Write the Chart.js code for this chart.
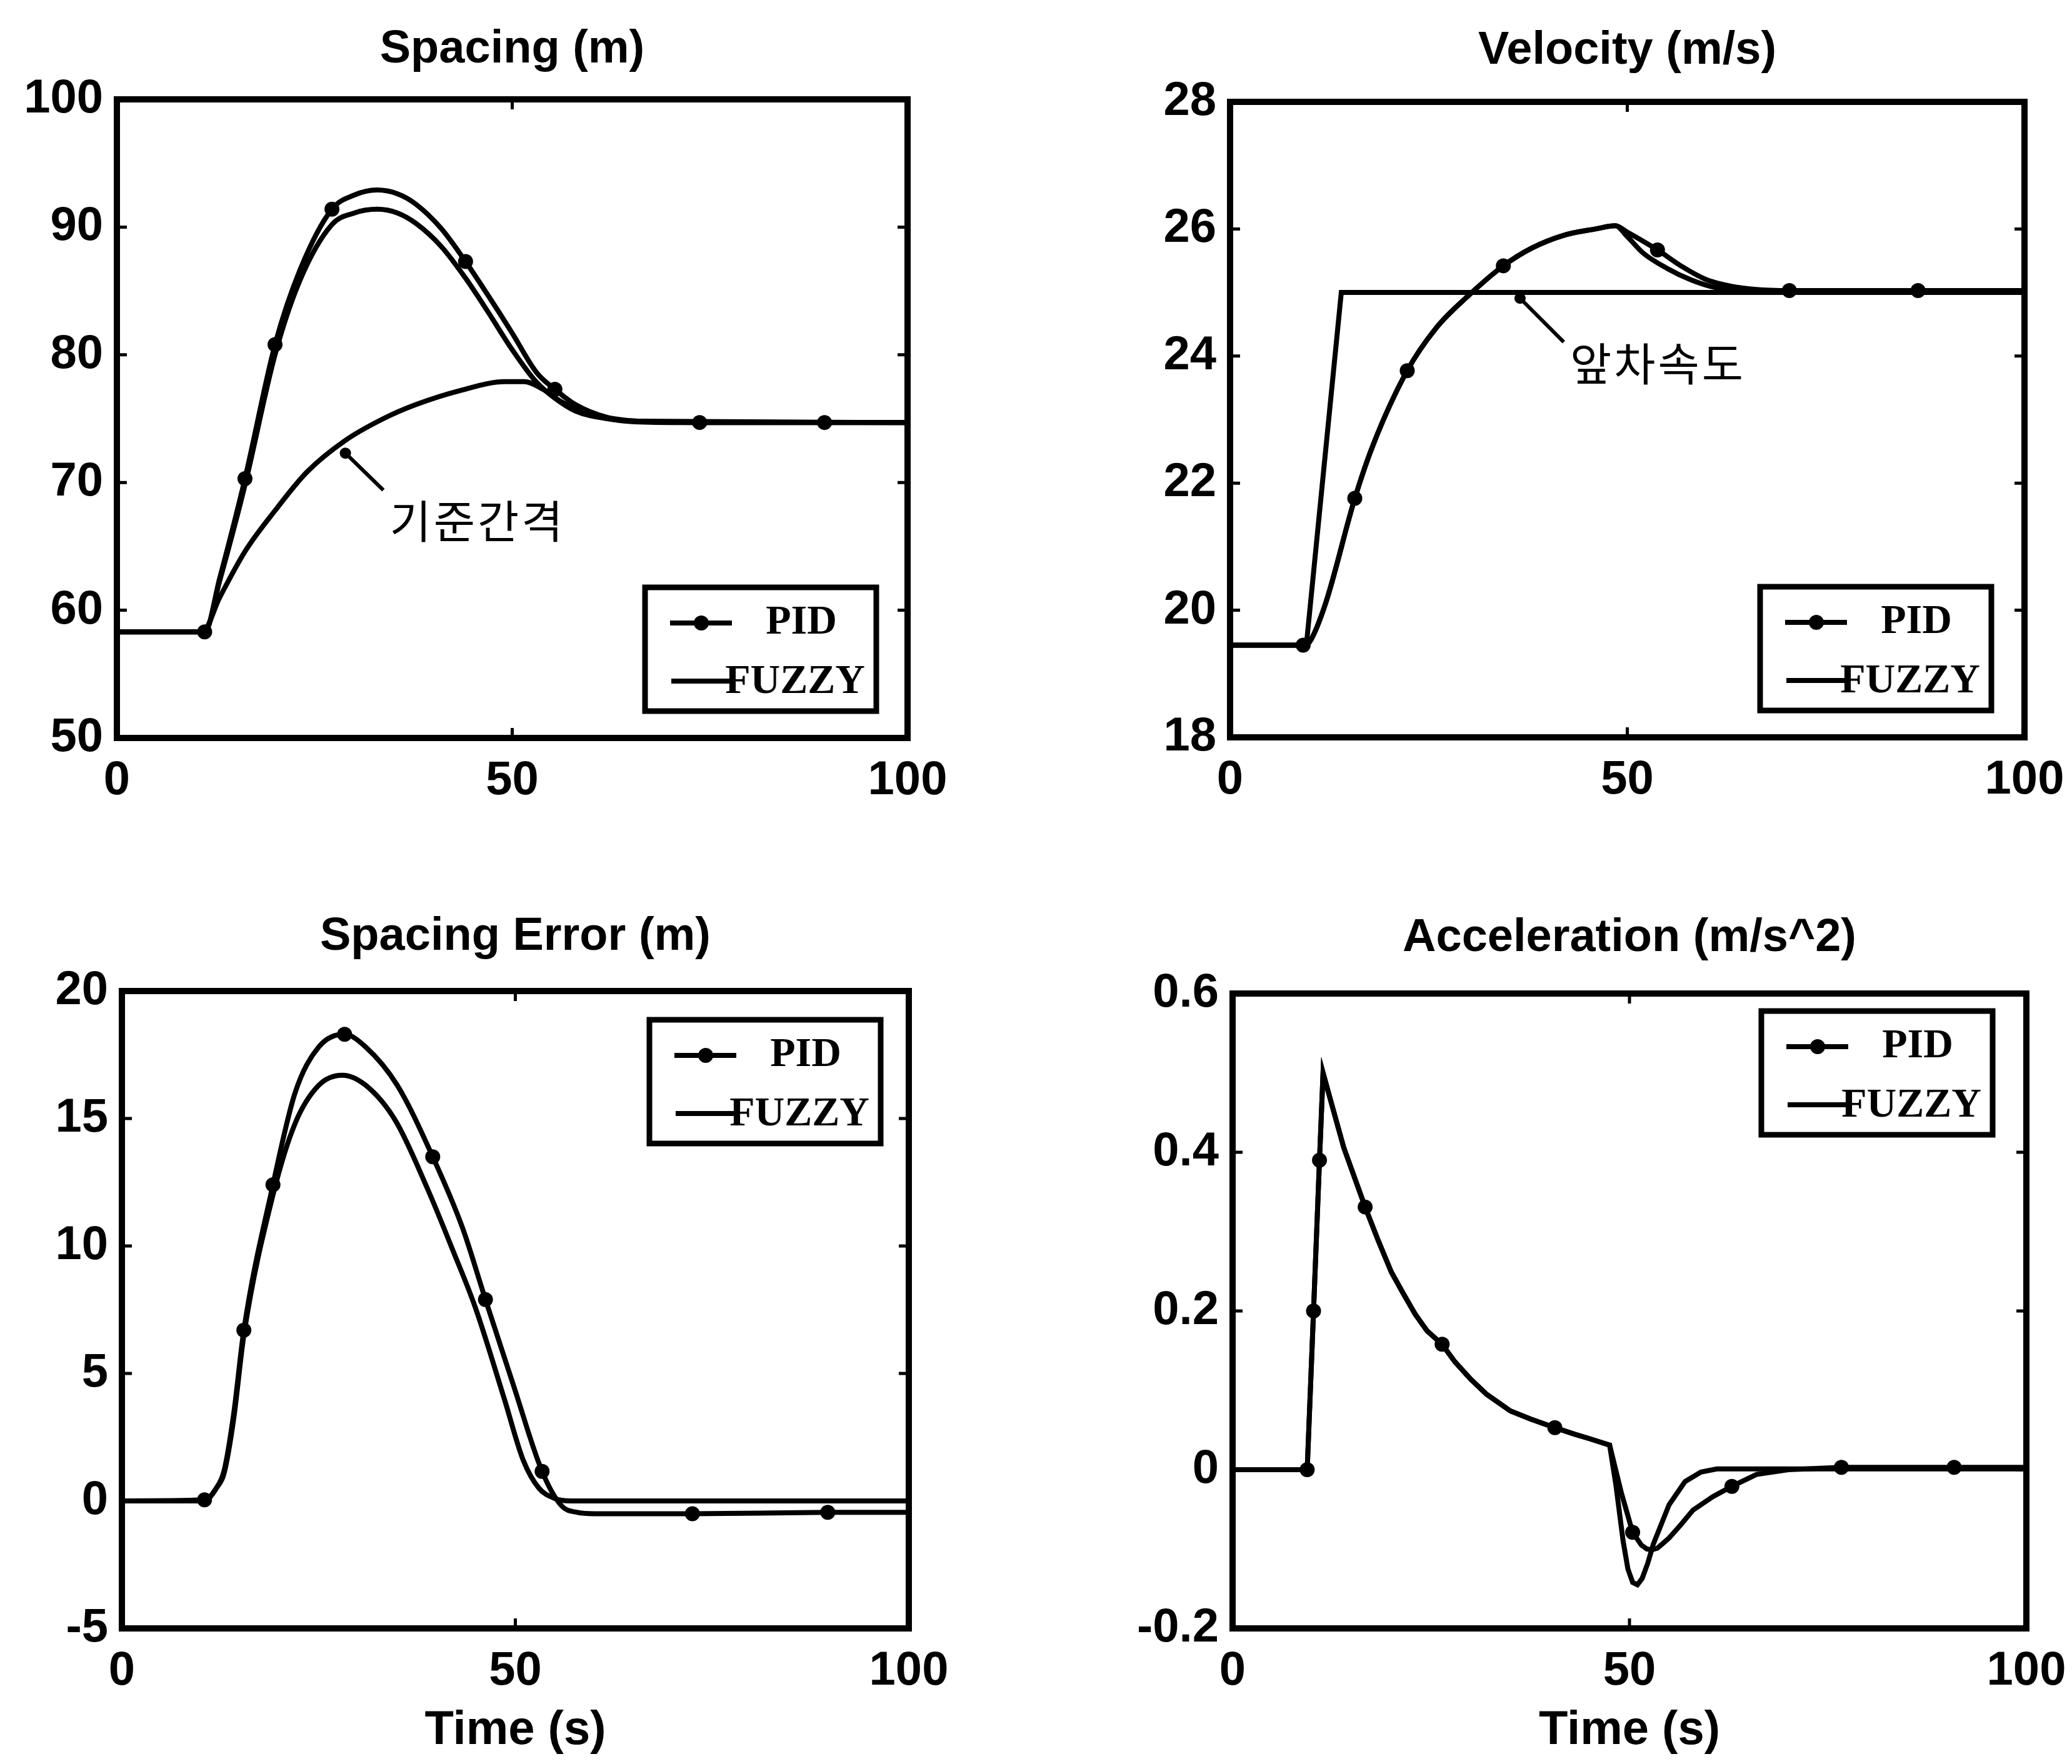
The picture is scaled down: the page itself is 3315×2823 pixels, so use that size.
<!DOCTYPE html>
<html>
<head>
<meta charset="utf-8">
<script src="https://cdn.jsdelivr.net/npm/chart.js@4.4.1/dist/chart.umd.min.js"></script>
<style>
  html, body { margin: 0; padding: 0; background: #fff; }
  body { width: 3315px; height: 2823px; position: relative; overflow: hidden; }
  canvas { position: absolute; }
</style>
</head>
<body>
<canvas id="spacing"></canvas>
<canvas id="velocity"></canvas>
<canvas id="error"></canvas>
<canvas id="accel"></canvas>
<script>
// ---- Spacing (m) ----
const spacingPidT = [0, 10, 11.1, 13, 16.2, 20, 23.2, 27.2, 30, 32.9, 35.5, 37.8, 41, 44.1, 47, 49.9, 53.1, 55.4, 58, 62, 66, 73.7, 89.5, 100];
const spacingPidV = [58.3, 58.3, 58.3, 62.5, 70.3, 80.8, 86.7, 91.4, 92.5, 92.9, 92.6, 91.8, 89.9, 87.3, 84.6, 81.8, 78.6, 77.3, 76.1, 75.1, 74.8, 74.7, 74.7, 74.7];
const spacingPidMarks = [11.1, 16.2, 20, 27.2, 44.1, 55.4, 73.7, 89.5];
const spacingFuzzyT = [0, 10, 11.1, 13, 16.2, 20, 23.2, 27.2, 30, 32.9, 35.5, 37.8, 41, 44.1, 47, 50, 53, 55.4, 58, 62, 66, 100];
const spacingFuzzyV = [58.3, 58.3, 58.3, 62.3, 69.8, 80.0, 85.9, 90.2, 91.1, 91.4, 91.1, 90.3, 88.5, 86.0, 83.3, 80.4, 77.9, 76.6, 75.6, 75.0, 74.8, 74.7];
const spacingRefT = [0, 10.8, 13, 16.2, 20, 24, 28.9, 33.7, 37.8, 43.4, 49.1, 51.5, 53.9, 56.3, 60.4, 64.4, 70, 100];
const spacingRefV = [58.3, 58.3, 61.0, 64.6, 67.8, 70.8, 73.3, 75.0, 76.1, 77.2, 77.9, 77.9, 77.3, 76.3, 75.3, 74.8, 74.7, 74.7];

// ---- Velocity (m/s) ----
const velPidT = [0, 9.2, 10, 12, 15.7, 18, 22.3, 26, 30, 34.4, 38, 42, 46, 48.5, 50, 53.8, 57, 60, 63, 66, 70.4, 86.6, 100];
const velPidV = [19.45, 19.45, 19.5, 20.1, 21.76, 22.6, 23.77, 24.45, 24.95, 25.42, 25.7, 25.9, 26.0, 26.05, 25.95, 25.67, 25.4, 25.2, 25.1, 25.05, 25.03, 25.03, 25.03];
const velPidMarks = [9.2, 15.7, 22.3, 34.4, 53.8, 70.4, 86.6];
const velFuzzyT = [0, 9.2, 10, 12, 15.7, 18, 22.3, 26, 30, 34.4, 38, 42, 46, 48.5, 50, 52, 55, 58, 61, 64, 70, 100];
const velFuzzyV = [19.45, 19.45, 19.5, 20.1, 21.76, 22.6, 23.77, 24.45, 24.95, 25.42, 25.7, 25.9, 26.0, 26.05, 25.88, 25.62, 25.38, 25.2, 25.08, 25.03, 25.02, 25.02];
const leadVelT = [0, 9.6, 14.0, 100];
const leadVelV = [19.45, 19.45, 25.0, 25.0];

// ---- Spacing Error (m) ----
const errPidT = [0, 10.5, 12, 13, 14.2, 15.5, 19.2, 22, 25, 28.3, 31, 35, 39.5, 43.3, 46.2, 49.8, 53.4, 55.9, 57.9, 60, 72.5, 89.7, 100];
const errPidV = [0, 0.04, 0.5, 1.2, 3.4, 6.7, 12.4, 16.0, 17.8, 18.3, 17.8, 16.3, 13.5, 10.7, 7.9, 4.5, 1.16, -0.2, -0.45, -0.5, -0.5, -0.45, -0.45];
const errPidMarks = [10.5, 15.5, 19.2, 28.3, 39.5, 46.2, 53.4, 72.5, 89.7];
const errFuzzyT = [0, 10.5, 12, 13, 14.2, 15.5, 19.2, 22, 25, 28, 31, 34.8, 38.9, 42.1, 44.9, 48.6, 51, 53, 55, 57, 100];
const errFuzzyV = [0, 0, 0.5, 1.1, 3.2, 6.5, 12.0, 14.8, 16.3, 16.7, 16.3, 14.9, 12.2, 9.8, 7.6, 4.0, 1.6, 0.5, 0.1, 0, 0];

// ---- Acceleration (m/s^2) ----
const accPidT = [0, 9.4, 10.2, 10.95, 11.4, 12.5, 14, 16.7, 18.3, 20, 21.5, 23, 24.5, 26.4, 28, 30, 32, 35, 37.5, 40.6, 43, 45, 47.5, 49, 50.4, 51.5, 52.2, 52.8, 53.5, 54.2, 55, 56.5, 58, 60.5, 62.9, 66, 70, 76.7, 90.9, 100];
const accPidV = [0, 0, 0.2, 0.39, 0.5, 0.46, 0.406, 0.331, 0.29, 0.249, 0.222, 0.196, 0.175, 0.158, 0.136, 0.114, 0.095, 0.074, 0.064, 0.053, 0.045, 0.039, 0.031, -0.03, -0.079, -0.095, -0.1, -0.101, -0.099, -0.093, -0.086, -0.069, -0.051, -0.034, -0.021, -0.006, 0, 0.003, 0.003, 0.003];
const accPidMarks = [9.4, 10.2, 10.95, 16.7, 26.4, 40.6, 50.4, 62.9, 76.7, 90.9];
const accFuzzyT = [0, 9.4, 10.2, 10.95, 11.4, 12.5, 14, 16.7, 18.3, 20, 21.5, 23, 24.5, 26.4, 28, 30, 32, 35, 37.5, 40.6, 43, 45, 47.5, 48.3, 49.2, 49.8, 50.4, 51.0, 51.6, 52.3, 53, 55, 57, 59, 61, 100];
const accFuzzyV = [0, 0, 0.2, 0.39, 0.5, 0.46, 0.406, 0.331, 0.29, 0.249, 0.222, 0.196, 0.175, 0.158, 0.136, 0.114, 0.095, 0.074, 0.064, 0.053, 0.045, 0.039, 0.031, -0.02, -0.09, -0.125, -0.142, -0.145, -0.137, -0.118, -0.094, -0.044, -0.015, -0.003, 0.001, 0.001];

const sansFont = '"Liberation Sans", Arial, sans-serif';
const serifFont = '"Liberation Serif", "Times New Roman", serif';

// turn a time list and a value list into points
function series(label, ts, vs, marks, smooth) {
  return {
    label: label,
    data: ts.map((t, i) => ({ x: t, y: vs[i] })),
    borderColor: '#000',
    backgroundColor: '#000',
    borderWidth: 8,
    pointRadius: ctx => (marks && ctx.raw && marks.includes(ctx.raw.x)) ? 12 : 0,
    pointBorderWidth: 0,
    pointBackgroundColor: '#000',
    cubicInterpolationMode: smooth ? 'monotone' : 'default',
    tension: 0,
    fill: false
  };
}

// box round the plot area with small inward ticks (matlab look)
const frame = {
  id: 'frame',
  afterDraw(chart) {
    const a = chart.chartArea, ctx = chart.ctx;
    const xs = chart.scales.x, ys = chart.scales.y;
    ctx.save();
    ctx.strokeStyle = '#000';
    ctx.lineWidth = 5;
    ctx.beginPath();
    xs.ticks.forEach(t => {
      const px = xs.getPixelForValue(t.value);
      ctx.moveTo(px, a.bottom); ctx.lineTo(px, a.bottom - 16);
      ctx.moveTo(px, a.top); ctx.lineTo(px, a.top + 16);
    });
    ys.ticks.forEach(t => {
      const py = ys.getPixelForValue(t.value);
      ctx.moveTo(a.left, py); ctx.lineTo(a.left + 16, py);
      ctx.moveTo(a.right, py); ctx.lineTo(a.right - 16, py);
    });
    ctx.stroke();
    ctx.lineWidth = 10;
    ctx.strokeRect(a.left, a.top, a.right - a.left, a.bottom - a.top);
    ctx.restore();
  }
};

// legend drawn as a framed box inside the plot
const boxLegend = {
  id: 'boxLegend',
  afterDatasetsDraw(chart, args, opts) {
    if (opts.right == null) return;
    const a = chart.chartArea, ctx = chart.ctx;
    const w = 370, h = 198;
    const x = a.right - opts.right - w;
    const y = opts.top != null ? a.top + opts.top : a.bottom - opts.bottom - h;
    ctx.save();
    ctx.fillStyle = '#fff';
    ctx.fillRect(x, y, w, h);
    ctx.strokeStyle = '#000';
    ctx.fillStyle = '#000';
    ctx.lineWidth = 9;
    ctx.strokeRect(x, y, w, h);
    ctx.lineWidth = 8;
    ctx.beginPath();
    ctx.moveTo(x + 40, y + 57); ctx.lineTo(x + 139, y + 57);
    ctx.moveTo(x + 42, y + 150); ctx.lineTo(x + 145, y + 150);
    ctx.stroke();
    ctx.beginPath();
    ctx.arc(x + 90, y + 57, 12, 0, Math.PI * 2);
    ctx.fill();
    ctx.font = 'bold 66px ' + serifFont;
    ctx.textAlign = 'center';
    ctx.textBaseline = 'middle';
    ctx.fillText('PID', x + 250, y + 57);
    ctx.fillText('FUZZY', x + 240, y + 152);
    ctx.restore();
  }
};

// korean annotation with leader line
const note = {
  id: 'note',
  afterDatasetsDraw(chart, args, opts) {
    if (!opts.text) return;
    const xs = chart.scales.x, ys = chart.scales.y, ctx = chart.ctx;
    const px = p => [xs.getPixelForValue(p[0]), ys.getPixelForValue(p[1])];
    const f = px(opts.from), t = px(opts.to), at = px(opts.at);
    ctx.save();
    ctx.strokeStyle = '#000';
    ctx.fillStyle = '#000';
    ctx.lineWidth = 6;
    ctx.beginPath();
    ctx.moveTo(f[0], f[1]); ctx.lineTo(t[0], t[1]);
    ctx.stroke();
    ctx.beginPath();
    ctx.arc(f[0], f[1], 9, 0, Math.PI * 2);
    ctx.fill();
    ctx.font = '72px "Noto Sans CJK KR", sans-serif';
    ctx.letterSpacing = '4px';
    ctx.textAlign = 'left';
    ctx.textBaseline = 'middle';
    ctx.fillText(opts.text, at[0], at[1]);
    ctx.restore();
  }
};

function fmtTick(v) {
  if (Math.abs(v) < 1e-9) return '0';
  return String(Math.round(v * 10) / 10);
}

function makeChart(p) {
  const cv = document.getElementById(p.id);
  const l = p.box[0], t = p.box[1], r = p.box[2], b = p.box[3];
  const padL = 190, padR = 190, padT = 150, padB = p.xTitle ? 220 : 110;
  cv.width = r - l + padL + padR;
  cv.height = b - t + padT + padB;
  cv.style.left = (l - padL) + 'px';
  cv.style.top = (t - padT) + 'px';
  const tp = p.titleY - (t - padT) - 37;
  const tickFont = { family: sansFont, size: 76, weight: 'bold', lineHeight: 1.2 };

  new Chart(cv, {
    type: 'line',
    data: { datasets: p.datasets },
    options: {
      responsive: false,
      animation: false,
      devicePixelRatio: 1,
      events: [],
      layout: { padding: { left: 0, right: padR, top: 0, bottom: 0 } },
      scales: {
        x: {
          type: 'linear', min: 0, max: 100,
          ticks: { stepSize: 50, font: tickFont, color: '#000', padding: 23, maxRotation: 0 },
          grid: { display: false, drawTicks: false },
          border: { display: false },
          title: {
            display: !!p.xTitle, text: p.xTitle || '', color: '#000',
            font: { family: sansFont, size: 76, weight: 'bold', lineHeight: 1.2 },
            padding: { top: 0, bottom: 10 }
          },
          afterFit: ax => { ax.height = padB; }
        },
        y: {
          type: 'linear', min: p.yMin, max: p.yMax,
          ticks: { stepSize: p.yStep, font: tickFont, color: '#000', padding: 22, callback: fmtTick },
          grid: { display: false, drawTicks: false },
          border: { display: false },
          afterFit: ax => { ax.width = padL; }
        }
      },
      plugins: {
        legend: { display: false },
        tooltip: { enabled: false },
        title: {
          display: true, text: p.title, color: '#000', fullSize: false,
          font: { family: sansFont, size: 74, weight: 'bold', lineHeight: 1 },
          padding: { top: tp, bottom: padT - tp - 74 }
        },
        boxLegend: p.legend,
        note: p.note || {}
      }
    },
    plugins: [frame, boxLegend, note]
  });
}

makeChart({
  id: 'spacing', title: 'Spacing (m)', box: [187, 159, 1452, 1181], titleY: 80,
  yMin: 50, yMax: 100, yStep: 10,
  legend: { right: 50, bottom: 43 },
  note: { text: '기준간격', from: [28.9, 72.3], to: [33.7, 69.4], at: [34.5, 67.0] },
  datasets: [
    series('PID', spacingPidT, spacingPidV, spacingPidMarks, true),
    series('FUZZY', spacingFuzzyT, spacingFuzzyV, null, true),
    series('기준간격', spacingRefT, spacingRefV, null, true)
  ]
});

makeChart({
  id: 'velocity', title: 'Velocity (m/s)', box: [1968, 163, 3239, 1180], titleY: 82,
  yMin: 18, yMax: 28, yStep: 2,
  legend: { right: 53, bottom: 43 },
  note: { text: '앞차속도', from: [36.5, 24.91], to: [42.0, 24.22], at: [42.8, 23.88] },
  datasets: [
    series('PID', velPidT, velPidV, velPidMarks, true),
    series('FUZZY', velFuzzyT, velFuzzyV, null, true),
    series('앞차속도', leadVelT, leadVelV, null, false)
  ]
});

makeChart({
  id: 'error', title: 'Spacing Error (m)', box: [195, 1586, 1454, 2606], titleY: 1500,
  yMin: -5, yMax: 20, yStep: 5, xTitle: 'Time (s)',
  legend: { right: 45, top: 46 },
  datasets: [
    series('PID', errPidT, errPidV, errPidMarks, true),
    series('FUZZY', errFuzzyT, errFuzzyV, null, true)
  ]
});

makeChart({
  id: 'accel', title: 'Acceleration (m/s^2)', box: [1972, 1590, 3242, 2606], titleY: 1502,
  yMin: -0.2, yMax: 0.6, yStep: 0.2, xTitle: 'Time (s)',
  legend: { right: 54, top: 28 },
  datasets: [
    series('PID', accPidT, accPidV, accPidMarks, false),
    series('FUZZY', accFuzzyT, accFuzzyV, null, false)
  ]
});
</script>
</body>
</html>
